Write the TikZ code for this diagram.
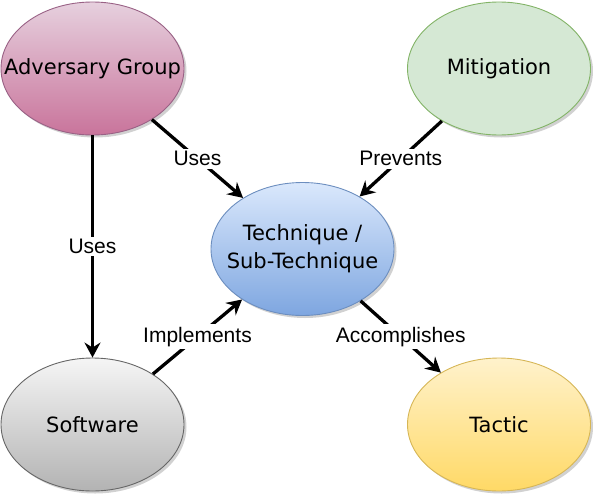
\documentclass[tikz,border=0pt]{standalone}
\usepackage{fontspec}
\setmainfont{DejaVu Sans}
\newfontfamily\lblfont{Liberation Sans}
\usetikzlibrary{shapes.geometric,arrows.meta,shadows}
\definecolor{advtop}{HTML}{E6D0DE}
\definecolor{advbot}{HTML}{C9749B}
\definecolor{advline}{HTML}{996185}
\definecolor{mitfill}{HTML}{D5E8D4}
\definecolor{mitline}{HTML}{82B366}
\definecolor{techtop}{HTML}{DAE8FC}
\definecolor{techbot}{HTML}{7EA6E0}
\definecolor{techline}{HTML}{6C8EBF}
\definecolor{softtop}{HTML}{F5F5F5}
\definecolor{softbot}{HTML}{B3B3B3}
\definecolor{softline}{HTML}{666666}
\definecolor{tactop}{HTML}{FFF2CC}
\definecolor{tacbot}{HTML}{FFD966}
\definecolor{tacline}{HTML}{D6B656}
\begin{document}
\begin{tikzpicture}[x=1pt,y=-1pt,
  ell/.style={ellipse, minimum width=183pt, minimum height=133pt, inner sep=0pt,
    line width=0.9pt, font=\fontsize{21}{25}\selectfont,
    drop shadow={shadow xshift=2.5pt,shadow yshift=-2.5pt,opacity=0.18,fill=black}},
  arr/.style={line width=3.3pt, -{Stealth[length=15pt,width=16pt,inset=5pt]}},
  lbl/.style={fill=white, inner sep=2.5pt, font=\lblfont\fontsize{21}{25}\selectfont}]
\useasboundingbox (0,0) rectangle (593,495);
\node[ell, draw=advline, top color=advtop, bottom color=advbot] (adv) at (92.5,68.5)
  {\makebox[0pt]{Adversary Group}};
\node[ell, draw=mitline, fill=mitfill] (mit) at (499,68.5)
  {\makebox[0pt]{Mitigation}};
\node[ell, draw=techline, top color=techtop, bottom color=techbot] (tech) at (302.5,249)
  {\makebox[0pt]{\raisebox{-2pt}{\begin{tabular}{@{}c@{}}Technique /\\[3pt]Sub-Technique\end{tabular}}}};
\node[ell, draw=softline, top color=softtop, bottom color=softbot] (soft) at (92.5,424.5)
  {\makebox[0pt]{Software}};
\node[ell, draw=tacline, top color=tactop, bottom color=tacbot] (tac) at (499,424.5)
  {\makebox[0pt]{Tactic}};
\draw[arr] (adv) -- node[lbl] (l1) {Uses} (soft);
\draw[arr] (adv) -- node[lbl] (l2) {Uses} (tech);
\draw[arr] (mit) -- node[lbl] (l3) {Prevents} (tech);
\draw[arr] (soft) -- node[lbl] (l4) {Implements} (tech);
\draw[arr] (tech) -- node[lbl] (l5) {Accomplishes} (tac);
\end{tikzpicture}
\end{document}
